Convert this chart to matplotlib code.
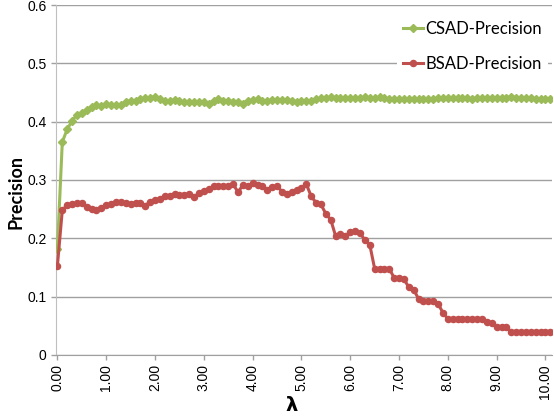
import matplotlib

matplotlib.use("Agg")

import matplotlib.pyplot as plt
import numpy as np
from matplotlib.lines import Line2D

GREEN = "#9bbb59"
RED = "#c0504d"
GRID = "#a0a0a0"
AXIS = "#bfbfbf"

# precision values, one per lambda step of 0.1 (0.0 .. 10.1)
CSAD = [
    0.182, 0.365, 0.387, 0.401, 0.412, 0.414, 0.420, 0.425, 0.429, 0.426,
    0.430, 0.429, 0.429, 0.429, 0.434, 0.436, 0.436, 0.438, 0.440, 0.441,
    0.443, 0.438, 0.436, 0.436, 0.437, 0.436, 0.433, 0.434, 0.434, 0.433,
    0.433, 0.430, 0.436, 0.438, 0.436, 0.435, 0.434, 0.433, 0.431, 0.436,
    0.437, 0.438, 0.435, 0.436, 0.437, 0.437, 0.437, 0.437, 0.436, 0.433,
    0.436, 0.436, 0.436, 0.438, 0.440, 0.440, 0.442, 0.441, 0.440, 0.440,
    0.440, 0.440, 0.440, 0.442, 0.441, 0.440, 0.442, 0.441, 0.438, 0.438,
    0.438, 0.438, 0.438, 0.438, 0.438, 0.438, 0.438, 0.439, 0.440, 0.441,
    0.440, 0.440, 0.440, 0.441, 0.440, 0.439, 0.441, 0.440, 0.440, 0.440,
    0.440, 0.441, 0.441, 0.443, 0.441, 0.441, 0.440, 0.440, 0.438, 0.438,
    0.438, 0.438,
]
BSAD = [
    0.153, 0.248, 0.257, 0.259, 0.260, 0.261, 0.254, 0.251, 0.249, 0.252,
    0.257, 0.258, 0.262, 0.263, 0.260, 0.259, 0.261, 0.261, 0.256, 0.263,
    0.266, 0.267, 0.273, 0.273, 0.276, 0.274, 0.274, 0.276, 0.270, 0.278,
    0.281, 0.285, 0.289, 0.290, 0.290, 0.290, 0.293, 0.279, 0.291, 0.289,
    0.294, 0.291, 0.290, 0.283, 0.288, 0.290, 0.280, 0.276, 0.279, 0.282,
    0.286, 0.293, 0.272, 0.261, 0.258, 0.242, 0.232, 0.204, 0.208, 0.204,
    0.211, 0.212, 0.209, 0.197, 0.189, 0.148, 0.148, 0.148, 0.148, 0.132,
    0.132, 0.130, 0.116, 0.112, 0.096, 0.092, 0.093, 0.093, 0.088, 0.072,
    0.062, 0.062, 0.062, 0.062, 0.062, 0.062, 0.062, 0.062, 0.057, 0.054,
    0.048, 0.048, 0.048, 0.039, 0.039, 0.039, 0.039, 0.039, 0.039, 0.039,
    0.039, 0.039,
]
LAMBDA = np.round(np.arange(len(CSAD)) * 0.1, 2)
XTICKS = [0, 1, 2, 3, 4, 5, 6, 7, 8, 9, 10]
YTICKS = [0, 0.1, 0.2, 0.3, 0.4, 0.5, 0.6]

fig = plt.figure(figsize=(5.54, 4.18), dpi=100)
ax = fig.add_axes([0.101, 0.151, 0.895, 0.837])

ax.plot(LAMBDA, CSAD, color=GREEN, lw=2.2, marker="D", ms=3.6, mec=GREEN, label="CSAD-Precision", zorder=3)
ax.plot(LAMBDA, BSAD, color=RED, lw=2.2, marker="o", ms=4.4, mec=RED, label="BSAD-Precision", zorder=3)

ax.set_xlim(-0.03, 10.13)
ax.set_ylim(0, 0.6)
ax.set_yticks(YTICKS)
ax.set_yticklabels(["0" if v == 0 else f"{v:.1f}" for v in YTICKS], family="Liberation Sans", fontsize=10)
ax.set_xticks(XTICKS)
ax.set_xticklabels([f"{v:.2f}" for v in XTICKS], rotation=90, family="Liberation Sans", fontsize=10)
ax.yaxis.grid(True, color=GRID, lw=1.0)
ax.set_axisbelow(True)
for side in ("top", "right"):
    ax.spines[side].set_visible(False)
ax.spines["left"].set_color(AXIS)
ax.spines["bottom"].set_color(GRID)
ax.tick_params(axis="both", colors=GRID, labelcolor="black", length=3.8, width=1, pad=3)

ax.set_ylabel("Precision", family="Lato", fontweight="bold", fontsize=13)
ax.yaxis.set_label_coords(-0.063, 0.466)
ax.set_xlabel("λ", fontweight="bold", fontsize=14)
ax.xaxis.set_label_coords(0.476, -0.118)

handles = [
    Line2D([], [], color=GREEN, lw=2.2, marker="D", ms=3.6),
    Line2D([], [], color=RED, lw=2.2, marker="o", ms=4.4),
]
leg = ax.legend(handles, ["CSAD-Precision", "BSAD-Precision"], loc="upper right",
                bbox_to_anchor=(1.0, 0.982), frameon=True, facecolor="white", edgecolor="none",
                framealpha=1, fancybox=False, handlelength=1.2, handletextpad=0.1,
                labelspacing=1.1, prop={"family": "Lato", "size": 12}, borderaxespad=0.2)

fig.savefig("out.png", dpi=100)
